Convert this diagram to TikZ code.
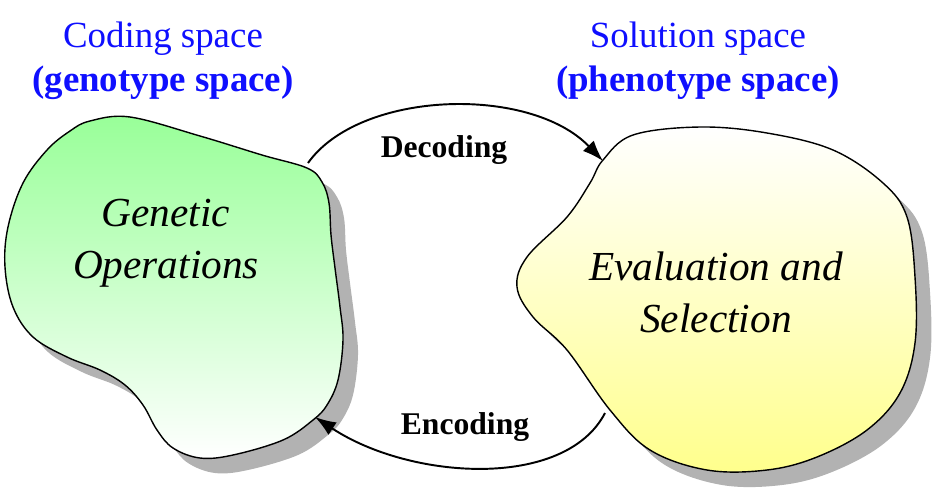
\documentclass[tikz,border=0pt]{standalone}
\usepackage{fontspec}
\setmainfont{Liberation Serif}[ItalicFont={Liberation Serif Italic},BoldFont={Liberation Serif Bold}]
\usetikzlibrary{arrows.meta,positioning}
\definecolor{skyblue}{RGB}{15,15,255}
\definecolor{leaf}{RGB}{152,255,152}
\definecolor{lemon}{RGB}{255,255,140}
\definecolor{smoke}{RGB}{178,178,178}
\definecolor{ink}{RGB}{0,0,0}
\tikzset{
  >={Latex[length=4.2mm,width=3mm]},
  blob/.style={draw=ink,line width=0.8pt},
  blob shade/.style={fill=smoke,shift={(15,15)}},
  flow/.style={->,line width=1.1pt,draw=ink},
  space title/.style={text=skyblue,align=center,font=\fontsize{21}{25}\selectfont},
  inner text/.style={align=center,font=\fontsize{23.5}{29.5}\selectfont\itshape},
  tag/.style={font=\fontsize{18}{20}\selectfont\bfseries},
}
\newcommand{\genoshape}{plot[smooth cycle,tension=0.6] coordinates {
  (90,121) (130,117) (200,136) (262,155) (307,168) (322,182) (329,203) (331,235)
  (335,268) (340,307) (343,340) (338,380) (327,405) (313,420) (283,440) (233,455)
  (200,458) (173,448) (157,430) (143,405) (125,385) (100,370) (67,357) (33,337)
  (13,307) (5,267) (8,227) (23,183) (47,150) (70,131)}}
\newcommand{\phenoshape}{plot[smooth cycle,tension=0.6] coordinates {
  (603,160) (633,135) (700,127) (767,133) (833,150) (883,183) (907,217) (915,277)
  (915,343) (900,393) (867,430) (817,457) (767,470) (707,470) (650,450) (610,410)
  (567,350) (533,317) (517,287) (527,257) (567,217) (590,183)}}

\begin{document}
\begin{tikzpicture}[x=0.02cm,y=-0.02cm]
  \useasboundingbox (0,0) rectangle (940,495);
  % blobs with their shadows
  \fill[blob shade] \genoshape;
  \fill[blob shade] \phenoshape;
  \shade[top color=leaf,bottom color=white] \genoshape;
  \draw[blob] \genoshape;
  \shade[top color=white,bottom color=lemon] \phenoshape;
  \draw[blob] \phenoshape;

  \node[space title] (coding) at (163,61) {Coding space\\\textbf{(genotype space)}};
  \node[space title] (solution) at (698,61) {Solution space\\\textbf{(phenotype space)}};
  \node[inner text] (geno) at (166,243) {Genetic\\Operations};
  \node[inner text] (pheno) at (716,292) {Evaluation and\\Selection};

  \coordinate (geno out) at (308,163);
  \coordinate (pheno in) at (603,161);
  \coordinate (pheno out) at (605,413);
  \coordinate (geno in) at (315,417);
  \draw[flow] (geno out) .. controls (360,90) and (530,85) .. (pheno in);
  \draw[flow] (pheno out) .. controls (565,490) and (410,480) .. (geno in);
  \node[tag] (decode) at (444,150) {Decoding};
  \node[tag] (encode) at (465,427) {Encoding};
\end{tikzpicture}
\end{document}
